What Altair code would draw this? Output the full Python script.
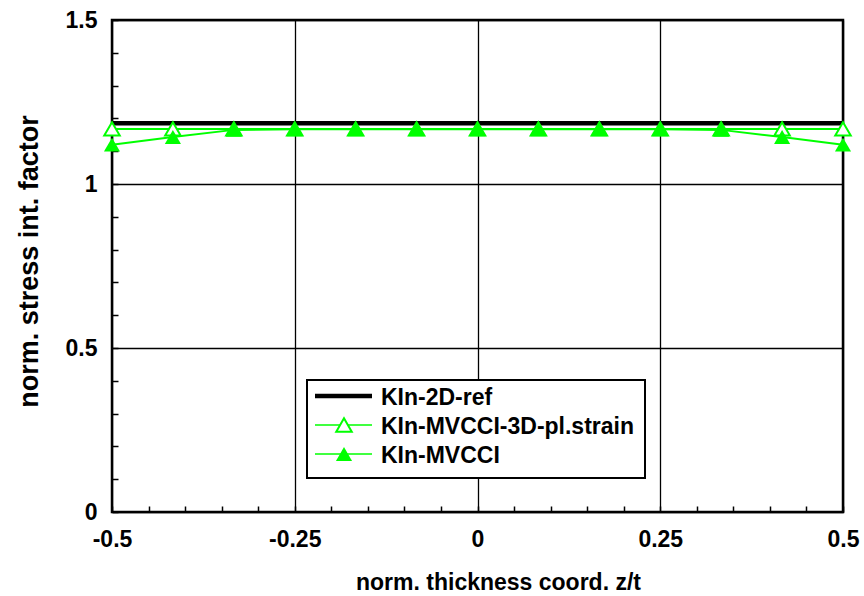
import altair as alt
import pandas as pd

# normalised thickness coordinate z/t (13 stations through the thickness)
z_t = [-0.5, -0.4167, -0.3333, -0.25, -0.1667, -0.0833, 0.0,
       0.0833, 0.1667, 0.25, 0.3333, 0.4167, 0.5]

# normalised stress intensity factors
kin_2d_ref = [1.185, 1.185, 1.185, 1.185, 1.185, 1.185, 1.185,
              1.185, 1.185, 1.185, 1.185, 1.185, 1.185]
kin_3d_plstrain = [1.168, 1.168, 1.168, 1.168, 1.168, 1.168, 1.168,
                   1.168, 1.168, 1.168, 1.168, 1.168, 1.168]
kin_mvcci = [1.120, 1.143, 1.165, 1.167, 1.167, 1.167, 1.167,
             1.167, 1.167, 1.167, 1.165, 1.143, 1.120]

series_names = ["KIn-2D-ref", "KIn-MVCCI-3D-pl.strain", "KIn-MVCCI"]

# axis tick positions
x_major = [-0.5, -0.25, 0, 0.25, 0.5]
x_minor = [-0.5, -0.45, -0.4, -0.35, -0.3, -0.25, -0.2, -0.15, -0.1, -0.05, 0,
           0.05, 0.1, 0.15, 0.2, 0.25, 0.3, 0.35, 0.4, 0.45, 0.5]
y_major = [0, 0.5, 1, 1.5]
y_minor = [0, 0.1, 0.2, 0.3, 0.4, 0.5, 0.6, 0.7, 0.8, 0.9, 1.0,
           1.1, 1.2, 1.3, 1.4, 1.5]

GREEN = "#00ff00"
FONT = "Liberation Sans"
W, H = 731, 492

df = pd.DataFrame({
    "z": z_t * 3,
    "k": kin_2d_ref + kin_3d_plstrain + kin_mvcci,
    "series": [series_names[0]] * len(z_t) + [series_names[1]] * len(z_t)
              + [series_names[2]] * len(z_t),
})

x_scale = alt.Scale(domain=[-0.5, 0.5], nice=False, zero=False)
y_scale = alt.Scale(domain=[0, 1.5], nice=False, zero=False)

x_axis = alt.Axis(
    values=x_major, labelExpr="'' + datum.value", grid=True, ticks=False,
    tickSize=0, domain=False, labelPadding=16, labelFontSize=23,
    labelFont=FONT, labelFontWeight="bold", labelColor="black",
    title="norm. thickness coord. z/t", titleFont=FONT, titleFontSize=23,
    titleFontWeight="bold", titleColor="black", titleX=386, titleY=77,
    titleAlign="center", titleBaseline="alphabetic",
    gridColor="black", gridWidth=1.3, labelFlush=False, labelOverlap=False,
)
y_axis = alt.Axis(
    values=y_major, labelExpr="'' + datum.value", grid=True, ticks=False,
    tickSize=0, domain=False, labelPadding=15, labelFontSize=23,
    labelFont=FONT, labelFontWeight="bold", labelColor="black",
    title="norm. stress int. factor", titleFont=FONT, titleFontSize=27,
    titleFontWeight="bold", titleColor="black", titleX=-75, titleY=241,
    titleAlign="center", titleBaseline="alphabetic", titleAngle=270,
    gridColor="black", gridWidth=1.3, labelFlush=False, labelOverlap=False,
)

base = alt.Chart(df)


def pick(i):
    return base.transform_filter(alt.datum.series == series_names[i])


xs = alt.X("z:Q", scale=x_scale, axis=None)
ys = alt.Y("k:Q", scale=y_scale, axis=None)

ref_line = pick(0).mark_line(color="black", strokeWidth=4.5).encode(
    x=alt.X("z:Q", scale=x_scale, axis=x_axis),
    y=alt.Y("k:Q", scale=y_scale, axis=y_axis),
)

pl_line = pick(1).mark_line(color=GREEN, strokeWidth=2).encode(x=xs, y=ys)
pl_pts = pick(1).mark_point(
    shape="triangle-up", size=240, filled=True, fill="white",
    stroke=GREEN, strokeWidth=2, opacity=1,
).encode(x=xs, y=ys)

mv_line = pick(2).mark_line(color=GREEN, strokeWidth=2).encode(x=xs, y=ys)
mv_pts = pick(2).mark_point(
    shape="triangle-up", size=260, filled=True, color=GREEN, opacity=1,
).encode(x=xs, y=ys)

# inward minor ticks along the bottom and left frame edges
x_minor_ticks = pick(0).mark_point(opacity=0).encode(
    x=alt.X("z:Q", scale=x_scale, axis=alt.Axis(
        orient="top", offset=-H, values=x_minor, labels=False, domain=False,
        grid=False, ticks=True, tickSize=6, tickWidth=1.5, tickColor="black",
        title=None)),
    y=ys,
)
y_minor_ticks = pick(0).mark_point(opacity=0).encode(
    x=xs,
    y=alt.Y("k:Q", scale=y_scale, axis=alt.Axis(
        orient="right", offset=-W, values=y_minor, labels=False, domain=False,
        grid=False, ticks=True, tickSize=6, tickWidth=1.5, tickColor="black",
        title=None)),
)

# legend box
one = alt.Data(values=[{"k": 0}])
legend_box = alt.Chart(one).mark_rect(
    fill="white", stroke="black", strokeWidth=2
).encode(x=alt.value(307 - 112), x2=alt.value(645 - 112),
         y=alt.value(380 - 20), y2=alt.value(478 - 20))

row_y = [396 - 20, 425 - 20, 454 - 20]
legend_layers = [legend_box]
legend_layers.append(alt.Chart(one).mark_rule(color="black", strokeWidth=4.5).encode(
    x=alt.value(315 - 112), x2=alt.value(372 - 112), y=alt.value(row_y[0])))
for r in (1, 2):
    legend_layers.append(alt.Chart(one).mark_rule(color=GREEN, strokeWidth=1.5).encode(
        x=alt.value(315 - 112), x2=alt.value(372 - 112), y=alt.value(row_y[r])))
legend_layers.append(alt.Chart(one).mark_point(
    shape="triangle-up", size=240, filled=True, fill="white",
    stroke=GREEN, strokeWidth=2, opacity=1,
).encode(x=alt.value(344 - 112), y=alt.value(row_y[1])))
legend_layers.append(alt.Chart(one).mark_point(
    shape="triangle-up", size=260, filled=True, color=GREEN, opacity=1,
).encode(x=alt.value(344 - 112), y=alt.value(row_y[2])))
for r, name in enumerate(series_names):
    legend_layers.append(alt.Chart(alt.Data(values=[{"label": name}])).mark_text(
        align="left", baseline="middle", font=FONT, fontSize=23,
        fontWeight="bold", color="black",
    ).encode(text="label:N", x=alt.value(381 - 112), y=alt.value(row_y[r] + 2)))

chart = alt.layer(
    ref_line, pl_line, pl_pts, mv_line, mv_pts, x_minor_ticks, y_minor_ticks,
    *legend_layers,
).resolve_axis(
    x="independent", y="independent"
).properties(
    width=W, height=H,
    autosize=alt.AutoSizeParams(type="none"),
    padding={"left": 112, "top": 20, "right": 21, "bottom": 84},
    background="white",
).configure_view(
    stroke="black", strokeWidth=2.5
)

chart.save("out.html", embed_options={"renderer": "svg", "actions": False})
